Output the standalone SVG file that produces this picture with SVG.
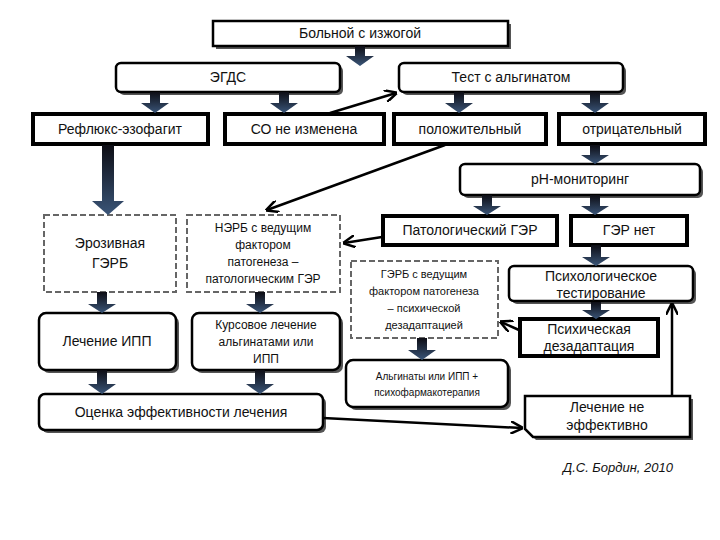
<svg xmlns="http://www.w3.org/2000/svg" width="720" height="540" viewBox="0 0 720 540">
<defs>
<style>
text{font-family:"Liberation Sans",Arial,sans-serif;font-size:14px;fill:#111;text-anchor:middle}
.t{fill:#fff;stroke:#000;stroke-width:2.5}
.th{fill:#fff;stroke:#000;stroke-width:4}
.d{fill:#fff;stroke:#666;stroke-width:2;stroke-dasharray:6 3}
.sh{fill:#555}
.ba{fill:url(#g)}
.ln{stroke:#000;stroke-width:2.5;fill:none;marker-end:url(#m)}
</style>
<linearGradient id="g" x1="0" y1="0" x2="0" y2="1"><stop offset="0" stop-color="#0d0d14"/><stop offset="1" stop-color="#3a5578"/></linearGradient>
<marker id="m" viewBox="0 0 10 10" refX="9" refY="5" markerWidth="5" markerHeight="5" orient="auto"><path d="M0,0L10,5L0,10" fill="none" stroke="#000" stroke-width="2"/></marker>
</defs>
<rect width="720" height="540" fill="#fff"/>
<g id="n1"><rect class="sh" x="216" y="24" width="295" height="25"/><rect class="t" x="213" y="21" width="295" height="25"/><text x="360" y="38">Больной с изжогой</text></g>
<g id="n2"><rect class="sh" x="119" y="66" width="224" height="29" rx="5"/><rect class="t" x="116" y="63" width="224" height="29" rx="5"/><text x="228" y="82">ЭГДС</text></g>
<g id="n3"><rect class="sh" x="402" y="66" width="224" height="29" rx="5"/><rect class="t" x="399" y="63" width="224" height="29" rx="5"/><text x="511" y="82">Тест с альгинатом</text></g>
<g id="n4"><rect class="th" x="33" y="114" width="175" height="30"/><text x="120" y="134">Рефлюкс-эзофагит</text></g>
<g id="n5"><rect class="th" x="225" y="114" width="159" height="30"/><text x="304" y="134">СО не изменена</text></g>
<g id="n6"><rect class="th" x="394" y="114" width="152" height="30"/><text x="470" y="134">положительный</text></g>
<g id="n7"><rect class="th" x="559" y="114" width="146" height="30"/><text x="632" y="134">отрицательный</text></g>
<g id="n8"><rect class="sh" x="463" y="167" width="240" height="31" rx="5"/><rect class="t" x="460" y="164" width="240" height="31" rx="5"/><text x="580" y="184">pH-мониторинг</text></g>
<g id="n9"><rect class="th" x="383" y="216" width="174" height="29"/><text x="470" y="235">Патологический ГЭР</text></g>
<g id="n10"><rect class="th" x="571" y="216" width="116" height="29"/><text x="629" y="235">ГЭР нет</text></g>
<g id="n11"><rect class="d" x="44" y="215" width="132" height="77"/><text x="110" y="248">Эрозивная</text><text x="110" y="268">ГЭРБ</text></g>
<g id="n12"><rect class="d" x="187" y="215" width="153" height="77"/><text x="263" y="232" style="font-size:12px">НЭРБ с ведущим</text><text x="263" y="249" style="font-size:12px">фактором</text><text x="263" y="266" style="font-size:12px">патогенеза –</text><text x="263" y="283" style="font-size:12px">патологическим ГЭР</text></g>
<g id="n13"><rect class="d" x="351" y="261" width="147" height="77"/><text x="424" y="278" style="font-size:11px">ГЭРБ с ведущим</text><text x="424" y="295" style="font-size:11px">фактором патогенеза</text><text x="424" y="312" style="font-size:11px">– психической</text><text x="424" y="329" style="font-size:11px">дезадаптацией</text></g>
<g id="n14"><rect class="sh" x="512" y="269" width="184" height="35" rx="5"/><rect class="t" x="509" y="266" width="184" height="35" rx="5"/><text x="601" y="281">Психологическое</text><text x="601" y="298">тестирование</text></g>
<g id="n15"><rect class="th" x="520" y="319" width="138" height="37"/><text x="589" y="334">Психическая</text><text x="589" y="351">дезадаптация</text></g>
<g id="n16"><rect class="sh" x="42" y="316" width="137" height="57" rx="7"/><rect class="t" x="39" y="313" width="137" height="57" rx="7"/><text x="107" y="346">Лечение ИПП</text></g>
<g id="n17"><rect class="sh" x="195" y="316" width="148" height="57" rx="7"/><rect class="t" x="192" y="313" width="148" height="57" rx="7"/><text x="266" y="329" style="font-size:12px">Курсовое лечение</text><text x="266" y="346" style="font-size:12px">альгинатами или</text><text x="266" y="363" style="font-size:12px">ИПП</text></g>
<g id="n18"><rect class="sh" x="349" y="363" width="162" height="47" rx="7"/><rect class="t" x="346" y="360" width="162" height="47" rx="7"/><text x="427" y="380" style="font-size:10px">Альгинаты или ИПП +</text><text x="427" y="396" style="font-size:10px">психофармакотерапия</text></g>
<g id="n19"><rect class="sh" x="42" y="397" width="284" height="36" rx="6"/><rect class="t" x="39" y="394" width="284" height="36" rx="6"/><text x="181" y="417">Оценка эффективности лечения</text></g>
<g id="n20"><path class="sh" d="M528,399H693V440H536L528,432Z"/><path class="t" d="M525,396H690V437H533L525,429Z"/><text x="607" y="412">Лечение не</text><text x="607" y="430">эффективно</text></g>
<text x="618" y="472" style="font-style:italic;font-size:13px">Д.С. Бордин, 2010</text>
<g id="connectors">
<g class="ba">
<path d="M355,46h10v10h9l-14,10l-14,-10h9z"/>
<path d="M150,92h10v11h9l-14,10l-14,-10h9z"/>
<path d="M279,92h10v11h9l-14,10l-14,-10h9z"/>
<path d="M454,92h10v11h9l-14,10l-14,-10h9z"/>
<path d="M590,92h10v11h9l-14,10l-14,-10h9z"/>
<path d="M590,145h10v10h9l-14,9l-14,-9h9z"/>
<path d="M482,195h10v11h9l-14,9l-14,-9h9z"/>
<path d="M590,195h10v11h9l-14,9l-14,-9h9z"/>
<path d="M102,145h12v56h10l-16,14l-16,-14h10z"/>
<path d="M591,245h10v12h9l-14,9l-14,-9h9z"/>
<path d="M591,302h10v8h9l-14,9l-14,-9h9z"/>
<path d="M97,292h10v12h9l-14,9l-14,-9h9z"/>
<path d="M255,292h10v12h9l-14,9l-14,-9h9z"/>
<path d="M417,338h10v12h9l-14,10l-14,-10h9z"/>
<path d="M97,370h10v14h9l-14,10l-14,-10h9z"/>
<path d="M255,370h10v14h9l-14,10l-14,-10h9z"/>
</g>
<path class="ln" d="M330,113L396,93"/>
<path class="ln" d="M445,145L267,210"/>
<path class="ln" d="M382,237L344,243"/>
<path class="ln" d="M519,330L501,322"/>
<path class="ln" d="M323,418L522,428"/>
<path class="ln" d="M672,396V304"/>
</g>
</svg>
